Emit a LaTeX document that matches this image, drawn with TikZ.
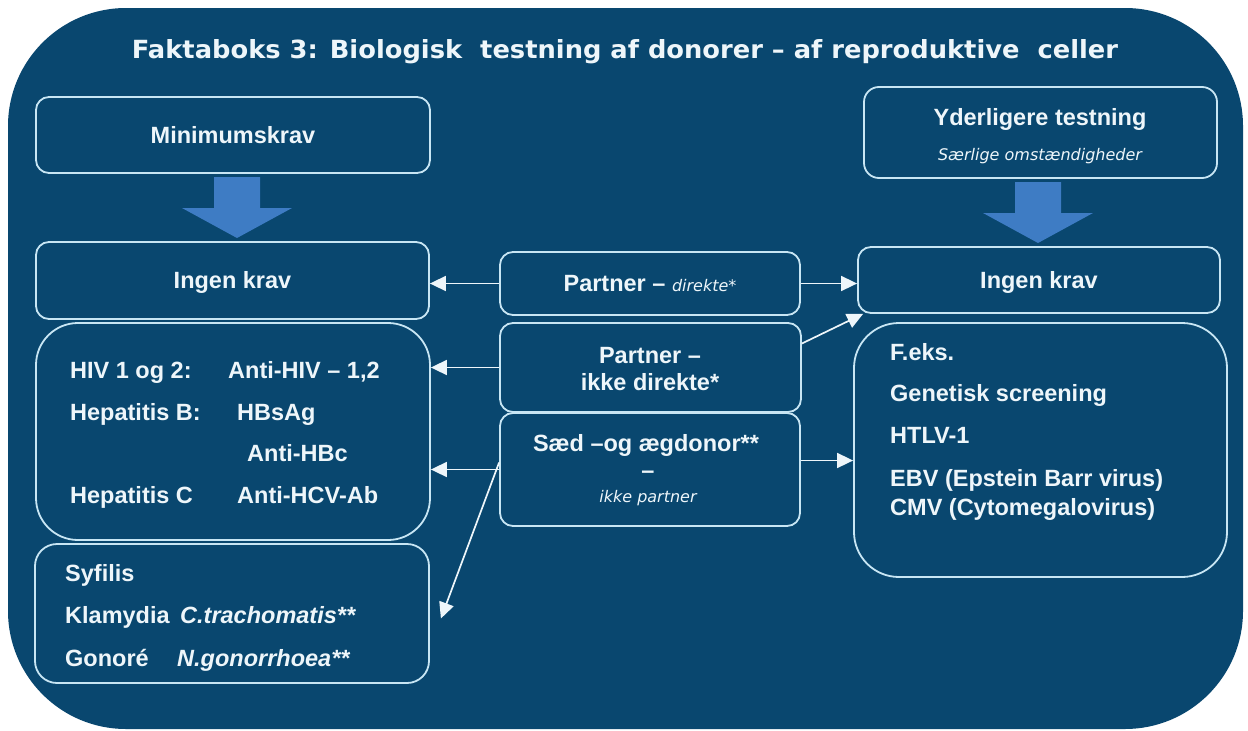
\documentclass[tikz,border=0pt]{standalone}
\usepackage{fontspec}
\setmainfont{Liberation Sans}
\newfontfamily\titlefont[FakeStretch=1.03]{DejaVu Sans}
\newfontfamily\notefont{DejaVu Sans}
\usetikzlibrary{arrows.meta, positioning}

\definecolor{bgblue}{RGB}{9,71,111}
\definecolor{rimblue}{RGB}{200,230,244}
\definecolor{arrowblue}{RGB}{62,124,196}
\definecolor{txtwhite}{RGB}{238,246,250}

\begin{document}
\begin{tikzpicture}[x=1pt, y=-1pt,
        box/.style={draw=rimblue, line width=1.8pt, rounded corners=13pt, inner sep=0pt},
        txt/.style={text=txtwhite, font=\fontsize{23.5}{28}\selectfont\bfseries, inner sep=0pt, text height=16.8pt, text depth=0pt},
        note/.style={text=txtwhite, font=\notefont\fontsize{16}{19}\selectfont\itshape, inner sep=0pt, text height=11.7pt, text depth=0pt},
        link/.style={draw=txtwhite, line width=1.7pt, -{Triangle[length=16pt,width=15pt]}},
        bigarrow/.style={fill=arrowblue}
    ]

    \useasboundingbox (0,0) rectangle (1248,731);
    \fill[bgblue, rounded corners=118pt] (8,8) rectangle (1243,729);

    \node[text=txtwhite, font=\titlefont\bfseries\fontsize{25}{30}\selectfont, inner sep=0pt, text height=18pt, text depth=0pt] (title) at (625,49)
        {Faktaboks 3: Biologisk\ \ testning af donorer – af reproduktive\ \ celler};

    % venstre kolonne
    \node[box, txt, minimum width=394pt, minimum height=76pt] (minkrav) at (233,135) {Minimumskrav};
    \node[box, txt, minimum width=393pt, minimum height=77pt] (ingenL) at (232.5,280.5) {Ingen krav};
    \node[box, rounded corners=42pt, minimum width=394pt, minimum height=217pt] (hiv) at (233,431.5) {};
    \node[box, rounded corners=22pt, minimum width=394pt, minimum height=139pt] (syf) at (232,613.5) {};

    \node[txt, anchor=west] (hiv1) at (70,370) {HIV 1 og 2:};
    \node[txt, anchor=west] (hiv1b) at (228,370) {Anti-HIV – 1,2};
    \node[txt, anchor=west] (hepB) at (70,412) {Hepatitis B:};
    \node[txt, anchor=west] (hepBa) at (237,412) {HBsAg};
    \node[txt, anchor=west] (hepBb) at (247,453) {Anti-HBc};
    \node[txt, anchor=west] (hepC) at (70,495) {Hepatitis C};
    \node[txt, anchor=west] (hepCa) at (237,495) {Anti-HCV-Ab};

    \node[txt, anchor=west] (syfilis) at (65,573) {Syfilis};
    \node[txt, anchor=west] (klam) at (65,615) {Klamydia};
    \node[txt, anchor=west, font=\fontsize{23.5}{28}\selectfont\bfseries\itshape] (klamb) at (180,615) {C.trachomatis**};
    \node[txt, anchor=west] (gono) at (65,658) {Gonoré};
    \node[txt, anchor=west, font=\fontsize{23.5}{28}\selectfont\bfseries\itshape] (gonob) at (177,658) {N.gonorrhoea**};

    % midterste kolonne
    \node[box, txt, minimum width=300pt, minimum height=63pt] (pdir) at (650,283.5)
        {Partner – {\notefont\fontsize{16}{19}\selectfont\mdseries\itshape direkte*}};
    \node[box, minimum width=301pt, minimum height=89pt] (pikke) at (650.5,367.5) {};
    \node[box, minimum width=300pt, minimum height=113pt] (saed) at (650,469.5) {};

    \node[txt] (pikke1) at (650,355) {Partner –};
    \node[txt] (pikke2) at (650,382) {ikke direkte*};
    \node[txt] (saed1) at (646,443.5) {Sæd –og ægdonor**};
    \node[txt] (saed2) at (648,470) {–};
    \node[note] (saed3) at (648,497) {ikke partner};

    % hoejre kolonne
    \node[box, rounded corners=15pt, minimum width=353pt, minimum height=91pt] (yder) at (1040.5,132.5) {};
    \node[box, txt, minimum width=362pt, minimum height=66pt] (ingenR) at (1039,280) {Ingen krav};
    \node[box, rounded corners=45pt, minimum width=373pt, minimum height=254pt] (feks) at (1040.5,450) {};

    \node[txt] (yder1) at (1040,117) {Yderligere testning};
    \node[note] (yder2) at (1040,155) {Særlige omstændigheder};

    \node[txt, anchor=west] (feks1) at (890,352) {F.eks.};
    \node[txt, anchor=west] (feks2) at (890,393) {Genetisk screening};
    \node[txt, anchor=west] (feks3) at (890,435) {HTLV-1};
    \node[txt, anchor=west] (feks4) at (890,478) {EBV (Epstein Barr virus)};
    \node[txt, anchor=west] (feks5) at (890,507) {CMV (Cytomegalovirus)};

    % blaa pile
    \foreach \ax/\ay in {237/177, 1038/182}
        \fill[bigarrow] (\ax-23,\ay) -- (\ax+23,\ay) -- (\ax+23,\ay+31) -- (\ax+55,\ay+31)
            -- (\ax,\ay+61) -- (\ax-55,\ay+31) -- (\ax-23,\ay+31) -- cycle;

    % forbindelser
    \draw[link] (pdir.west) -- (pdir.west -| ingenL.east);
    \draw[link] (pdir.east) -- (pdir.east -| ingenR.west);
    \draw[link] (pikke.west) -- (pikke.west -| hiv.east);
    \draw[link] ([yshift=24pt]pikke.east) -- ([xshift=6pt]ingenR.south west);
    \draw[link] (saed.west) -- (saed.west -| hiv.east);
    \draw[link] ([yshift=9pt]saed.east) -- ([yshift=9pt]saed.east -| feks.west);
    \draw[link] ([yshift=7pt]saed.west) -- ([xshift=11pt,yshift=-5pt]syf.east);

\end{tikzpicture}
\end{document}
